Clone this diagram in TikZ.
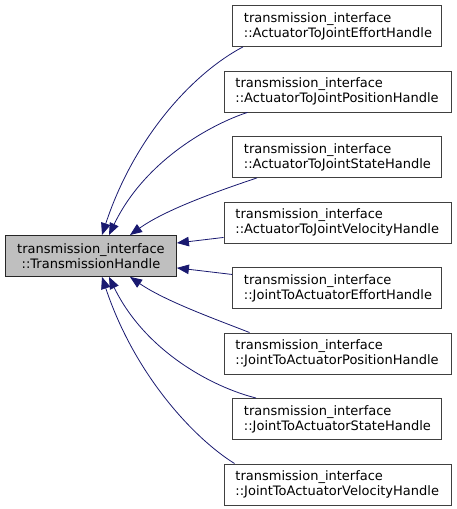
\documentclass[tikz,border=0pt]{standalone}
\usepackage{fontspec}
\setmainfont{DejaVu Sans}
\usetikzlibrary{arrows.meta}
\definecolor{edgeblue}{HTML}{191970}
\definecolor{basefill}{HTML}{BFBFBF}
\begin{document}
\begin{tikzpicture}[x=1pt,y=-1pt,
  every node/.style={font=\fontsize{13}{15}\selectfont},
  cls/.style={draw=black!75, line width=0.9pt, fill=white, anchor=north west,
    minimum height=41pt, inner xsep=11.5pt, inner ysep=0pt, align=left,
    text width=#1},
  base/.style={cls=#1, draw=black!85, fill=basefill, align=center},
  edge/.style={draw=edgeblue, line width=0.8pt,
    -{Triangle[length=12pt,width=9.5pt]}},
]
\useasboundingbox (0,0) rectangle (456,509);

\node[base=148pt] (th) at (5,235) {transmission\_interface\\::TransmissionHandle};

\node[cls=186pt] (b1) at (232,5)     {transmission\_interface\\::ActuatorToJointEffortHandle};
\node[cls=204pt] (b2) at (223.5,70.5) {transmission\_interface\\::ActuatorToJointPositionHandle};
\node[cls=186pt] (b3) at (232,136)   {transmission\_interface\\::ActuatorToJointStateHandle};
\node[cls=204pt] (b4) at (223.5,201.5) {transmission\_interface\\::ActuatorToJointVelocityHandle};
\node[cls=186pt] (b5) at (232,267)   {transmission\_interface\\::JointToActuatorEffortHandle};
\node[cls=204pt] (b6) at (223.5,332.5) {transmission\_interface\\::JointToActuatorPositionHandle};
\node[cls=186pt] (b7) at (232,398)   {transmission\_interface\\::JointToActuatorStateHandle};
\node[cls=204pt] (b8) at (223.5,463.5) {transmission\_interface\\::JointToActuatorVelocityHandle};

% tips on the base class
\coordinate (t1) at ([xshift=97pt]th.north west);
\coordinate (t2) at ([xshift=104pt]th.north west);
\coordinate (t3) at ([xshift=125pt]th.north west);
\coordinate (t4) at ([yshift=-8pt]th.north east);
\coordinate (t5) at ([yshift=9pt]th.south east);
\coordinate (t6) at ([xshift=125pt]th.south west);
\coordinate (t7) at ([xshift=104pt]th.south west);
\coordinate (t8) at ([xshift=97pt]th.south west);

\draw[edge] ([xshift=11pt]b1.south west) .. controls (195,72) and (135,135) .. (t1);
\draw[edge] ([xshift=24pt]b2.south west) .. controls (212,124) and (145,160) .. (t2);
\draw[edge] ([xshift=25pt]b3.south west) .. controls (215,192) and (165,210) .. (t3);
\draw[edge] ([yshift=-15pt]b4.west) -- (t4);
\draw[edge] ([yshift=13.5pt]b5.west) -- (t5);
\draw[edge] ([xshift=26pt]b6.north west) .. controls (215,319) and (165,301) .. (t6);
\draw[edge] ([xshift=24pt]b7.north west) .. controls (212,387) and (145,351) .. (t7);
\draw[edge] ([xshift=11pt]b8.north west) .. controls (195,439) and (135,376) .. (t8);
\end{tikzpicture}
\end{document}
